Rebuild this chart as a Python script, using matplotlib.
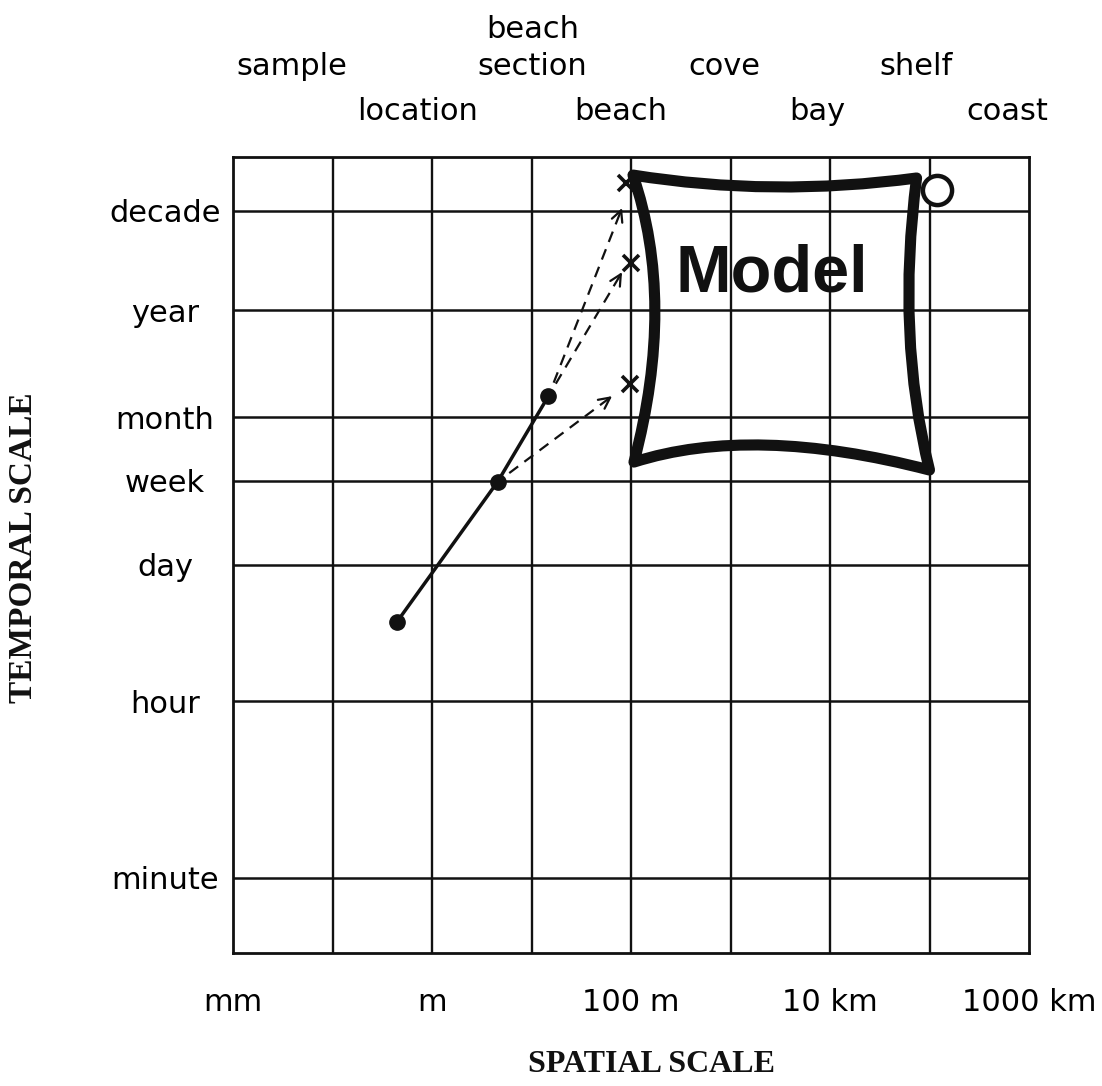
import numpy as np
import matplotlib
matplotlib.use('Agg')
import matplotlib.pyplot as plt
from matplotlib.path import Path
from matplotlib.patches import PathPatch
from matplotlib.ticker import NullLocator

# ---------------- data ----------------
# temporal scale (seconds)
time_labels = ['minute', 'hour', 'day', 'week', 'month', 'year', 'decade']
time_seconds = [60, 3600, 86400, 604800, 2.63e6, 3.156e7, 3.156e8]

# spatial scale (grid columns)
space_labels = ['mm', 'm', '100 m', '10 km', '1000 km']
space_cols = [0, 2, 4, 6, 8]

# feature names along the top
feature_row1 = ['sample', 'beach\nsection', 'cove', 'shelf']
feature_row2 = ['location', 'beach', 'bay', 'coast']
feature_row1_x = [0.59, 3.01, 4.94, 6.86]
feature_row2_x = [1.85, 3.90, 5.87, 7.78]

# measurement track (column, seconds)
track_x = [1.65, 2.66, 3.17]
track_t = [2.3e4, 5.9e5, 4.3e6]

# extrapolation arrows (start index on track -> end point)
arrow_start = [1, 2, 2]
arrow_end_x = [3.81, 3.91, 3.91]
arrow_end_t = [4.3e6, 3.38e8, 7.64e7]

# x-marked targets
target_x = [3.95, 4.00, 3.99]
target_t = [6.0e8, 9.4e7, 5.7e6]

# model domain: corners (TL, TR, BR, BL) and edge mid points (top, right, bottom, left)
box_corner_x = [4.02, 6.87, 7.00, 4.03]
box_corner_t = [7.26e8, 6.78e8, 7.74e5, 9.31e5]
box_mid_x = [5.43, 6.80, 5.37, 4.24]
box_mid_t = [5.51e8, 2.0e7, 1.38e6, 3.16e7]
circle_x, circle_t = 7.08, 5.1e8
model_x, model_t = 5.42, 7.2e7

# ---------------- figure ----------------
W, H = 1102, 1086
fig = plt.figure(figsize=(W / 100, H / 100), dpi=100)
ax = fig.add_axes([233 / W, 1 - 953 / H, (1029 - 233) / W, (953 - 157) / H])

ax.set_xlim(0, 8)
ax.set_yscale('log')
ax.set_ylim(10 ** 1.022, 10 ** 9.043)
ax.yaxis.set_minor_locator(NullLocator())

ink = '#111111'
for s in ax.spines.values():
    s.set_linewidth(2.0)
    s.set_color(ink)

for c in range(1, 8):
    ax.axvline(c, color=ink, lw=1.7, zorder=1)
for t in time_seconds:
    ax.axhline(t, color=ink, lw=1.8, zorder=1)

tick_font = dict(family='DejaVu Sans', size=22)
ax.set_yticks(time_seconds)
ax.set_yticklabels(time_labels, **tick_font)
for lbl in ax.get_yticklabels():
    lbl.set_ha('center')
ax.tick_params(axis='y', length=0, pad=49)

ax.set_xticks(space_cols)
ax.set_xticklabels(space_labels, **tick_font)
ax.tick_params(axis='x', length=0, pad=25)

# top feature labels
tr = ax.get_xaxis_transform()
for x, lab in zip(feature_row1_x, feature_row1):
    ax.text(x, 1.096, lab, transform=tr, ha='center', va='bottom',
            fontsize=22, family='DejaVu Sans', linespacing=1.35)
for x, lab in zip(feature_row2_x, feature_row2):
    ax.text(x, 1.057, lab, transform=tr, ha='center', va='center', fontsize=22, family='DejaVu Sans')

# solid measurement track
ax.plot(track_x, track_t, color=ink, lw=2.5, zorder=4)
ax.plot(track_x, track_t, 'o', color=ink, ms=11, zorder=5)

# dashed extrapolation arrows
for i, ex, et in zip(arrow_start, arrow_end_x, arrow_end_t):
    sx, st = track_x[i], track_t[i]
    ax.plot([sx, ex], [st, et], color=ink, lw=1.6, linestyle=(2, (5, 3.5)), zorder=4)
    fx = ex - 0.03 * (ex - sx)
    ft = 10 ** (np.log10(et) - 0.03 * (np.log10(et) - np.log10(st)))
    ax.annotate('', xy=(ex, et), xytext=(fx, ft),
                arrowprops=dict(arrowstyle='->', lw=1.6, color=ink,
                                mutation_scale=20, shrinkA=0, shrinkB=0), zorder=4)

ax.plot(target_x, target_t, 'x', color=ink, ms=11, mew=2.6, zorder=5)

# model domain outline (quadratic curves through the edge mid points)
lx = np.array(box_corner_x)
ly = np.log10(box_corner_t)
mx = np.array(box_mid_x)
my = np.log10(box_mid_t)
verts, codes = [], []
for k in range(4):
    p0 = (lx[k], ly[k])
    p2 = (lx[(k + 1) % 4], ly[(k + 1) % 4])
    cx = 2 * mx[k] - 0.5 * (p0[0] + p2[0])
    cy = 2 * my[k] - 0.5 * (p0[1] + p2[1])
    if k == 0:
        verts.append((p0[0], 10 ** p0[1]))
        codes.append(Path.MOVETO)
    verts += [(cx, 10 ** cy), (p2[0], 10 ** p2[1])]
    codes += [Path.CURVE3, Path.CURVE3]
verts.append((0, 0))
codes.append(Path.CLOSEPOLY)
ax.add_patch(PathPatch(Path(verts, codes), facecolor='none', edgecolor=ink, lw=8,
                       joinstyle='round', capstyle='round', zorder=6))
ax.plot([circle_x], [circle_t], 'o', mfc='white', mec=ink, ms=21, mew=3.2, zorder=7)

ax.text(model_x, model_t, 'Model', ha='center', va='center', fontsize=48,
        family='Liberation Sans', weight='bold', color=ink, zorder=7)

# axis titles
fig.text(24 / W, 1 - 548 / H, 'TEMPORAL SCALE', rotation=90, ha='center', va='center',
         family='Liberation Serif', weight='bold', fontsize=24, color=ink)
fig.text(652 / W, 1 - 1064 / H, 'SPATIAL SCALE', ha='center', va='center',
         family='Liberation Serif', weight='bold', fontsize=23, color=ink)

fig.savefig('out.png', dpi=100, facecolor='white')
